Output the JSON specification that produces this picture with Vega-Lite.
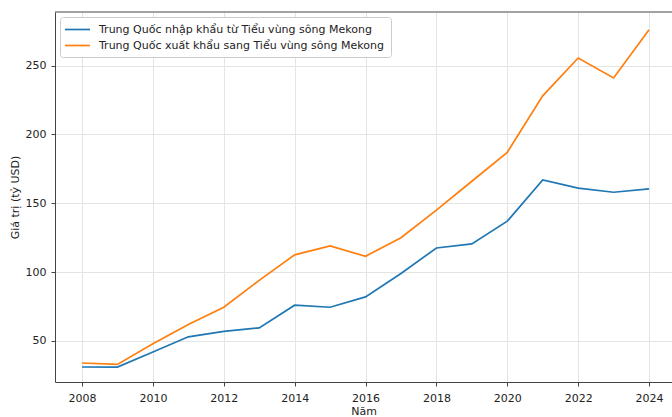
{
  "$schema": "https://vega.github.io/schema/vega-lite/v6.json",
  "autosize": "none",
  "width": 617,
  "height": 370,
  "padding": {"left": 55, "top": 12, "right": 0, "bottom": 35},
  "background": "white",
  "config": {
    "font": "DejaVu Sans",
    "view": {"stroke": null},
    "axis": {
      "labelFont": "DejaVu Sans",
      "titleFont": "DejaVu Sans",
      "labelFontSize": 11,
      "titleFontSize": 11,
      "titleFontWeight": "normal",
      "labelColor": "#222",
      "titleColor": "#222",
      "domainColor": "#444",
      "domainWidth": 1,
      "tickColor": "#444",
      "tickSize": 4,
      "gridColor": "#e4e4e4",
      "gridWidth": 1
    }
  },
  "datasets": {
    "trade": [
      {"Năm": 2008, "series": "Trung Quốc nhập khẩu từ Tiểu vùng sông Mekong", "value": 31.1},
      {"Năm": 2009, "series": "Trung Quốc nhập khẩu từ Tiểu vùng sông Mekong", "value": 31.0},
      {"Năm": 2010, "series": "Trung Quốc nhập khẩu từ Tiểu vùng sông Mekong", "value": 42.0},
      {"Năm": 2011, "series": "Trung Quốc nhập khẩu từ Tiểu vùng sông Mekong", "value": 53.0},
      {"Năm": 2012, "series": "Trung Quốc nhập khẩu từ Tiểu vùng sông Mekong", "value": 57.0},
      {"Năm": 2013, "series": "Trung Quốc nhập khẩu từ Tiểu vùng sông Mekong", "value": 59.5},
      {"Năm": 2014, "series": "Trung Quốc nhập khẩu từ Tiểu vùng sông Mekong", "value": 76.0},
      {"Năm": 2015, "series": "Trung Quốc nhập khẩu từ Tiểu vùng sông Mekong", "value": 74.5},
      {"Năm": 2016, "series": "Trung Quốc nhập khẩu từ Tiểu vùng sông Mekong", "value": 82.0},
      {"Năm": 2017, "series": "Trung Quốc nhập khẩu từ Tiểu vùng sông Mekong", "value": 99.0},
      {"Năm": 2018, "series": "Trung Quốc nhập khẩu từ Tiểu vùng sông Mekong", "value": 117.5},
      {"Năm": 2019, "series": "Trung Quốc nhập khẩu từ Tiểu vùng sông Mekong", "value": 120.5},
      {"Năm": 2020, "series": "Trung Quốc nhập khẩu từ Tiểu vùng sông Mekong", "value": 137.0},
      {"Năm": 2021, "series": "Trung Quốc nhập khẩu từ Tiểu vùng sông Mekong", "value": 167.0},
      {"Năm": 2022, "series": "Trung Quốc nhập khẩu từ Tiểu vùng sông Mekong", "value": 161.0},
      {"Năm": 2023, "series": "Trung Quốc nhập khẩu từ Tiểu vùng sông Mekong", "value": 158.0},
      {"Năm": 2024, "series": "Trung Quốc nhập khẩu từ Tiểu vùng sông Mekong", "value": 160.5},
      {"Năm": 2008, "series": "Trung Quốc xuất khẩu sang Tiểu vùng sông Mekong", "value": 34.0},
      {"Năm": 2009, "series": "Trung Quốc xuất khẩu sang Tiểu vùng sông Mekong", "value": 33.0},
      {"Năm": 2010, "series": "Trung Quốc xuất khẩu sang Tiểu vùng sông Mekong", "value": 48.0},
      {"Năm": 2011, "series": "Trung Quốc xuất khẩu sang Tiểu vùng sông Mekong", "value": 62.0},
      {"Năm": 2012, "series": "Trung Quốc xuất khẩu sang Tiểu vùng sông Mekong", "value": 74.5},
      {"Năm": 2013, "series": "Trung Quốc xuất khẩu sang Tiểu vùng sông Mekong", "value": 94.0},
      {"Năm": 2014, "series": "Trung Quốc xuất khẩu sang Tiểu vùng sông Mekong", "value": 112.5},
      {"Năm": 2015, "series": "Trung Quốc xuất khẩu sang Tiểu vùng sông Mekong", "value": 119.0},
      {"Năm": 2016, "series": "Trung Quốc xuất khẩu sang Tiểu vùng sông Mekong", "value": 111.5},
      {"Năm": 2017, "series": "Trung Quốc xuất khẩu sang Tiểu vùng sông Mekong", "value": 125.0},
      {"Năm": 2018, "series": "Trung Quốc xuất khẩu sang Tiểu vùng sông Mekong", "value": 145.0},
      {"Năm": 2019, "series": "Trung Quốc xuất khẩu sang Tiểu vùng sông Mekong", "value": 166.0},
      {"Năm": 2020, "series": "Trung Quốc xuất khẩu sang Tiểu vùng sông Mekong", "value": 187.0},
      {"Năm": 2021, "series": "Trung Quốc xuất khẩu sang Tiểu vùng sông Mekong", "value": 228.0},
      {"Năm": 2022, "series": "Trung Quốc xuất khẩu sang Tiểu vùng sông Mekong", "value": 255.5},
      {"Năm": 2023, "series": "Trung Quốc xuất khẩu sang Tiểu vùng sông Mekong", "value": 241.0},
      {"Năm": 2024, "series": "Trung Quốc xuất khẩu sang Tiểu vùng sông Mekong", "value": 276.0}
    ],
    "frame": [{"top": 288.9}]
  },
  "layer": [
    {
      "data": {"name": "trade"},
      "mark": {"type": "line", "strokeWidth": 1.7},
      "encoding": {
        "x": {
          "field": "Năm",
          "type": "quantitative",
          "scale": {"domain": [2007.238, 2024.648], "nice": false, "zero": false},
          "axis": {"title": "Năm", "format": "d", "values": [2008, 2010, 2012, 2014, 2016, 2018, 2020, 2022, 2024], "labelPadding": 6, "titlePadding": 2}
        },
        "y": {
          "field": "value",
          "type": "quantitative",
          "scale": {"domain": [20.2, 288.9], "nice": false, "zero": false},
          "axis": {"title": "Giá trị (tỷ USD)", "values": [50, 100, 150, 200, 250], "labelPadding": 5, "titlePadding": 5}
        },
        "color": {
          "field": "series",
          "type": "nominal",
          "scale": {
            "domain": ["Trung Quốc nhập khẩu từ Tiểu vùng sông Mekong", "Trung Quốc xuất khẩu sang Tiểu vùng sông Mekong"],
            "range": ["#1f77b4", "#ff7f0e"]
          },
          "legend": {
            "title": null,
            "orient": "none",
            "legendX": 5,
            "legendY": 5,
            "symbolType": "M-1.5,0H3.5",
            "symbolSize": 100,
            "symbolStrokeWidth": 1.7,
            "labelFont": "DejaVu Sans",
            "labelFontSize": 11,
            "labelColor": "#222",
            "rowPadding": 5,
            "padding": 6.5,
            "fillColor": "white",
            "strokeColor": "#cccccc",
            "cornerRadius": 3,
            "labelOffset": 20.5,
            "labelLimit": 400
          }
        }
      }
    },
    {
      "data": {"name": "frame"},
      "mark": {"type": "rule", "color": "#444", "strokeWidth": 1},
      "encoding": {
        "y": {"field": "top", "type": "quantitative"}
      }
    }
  ]
}
